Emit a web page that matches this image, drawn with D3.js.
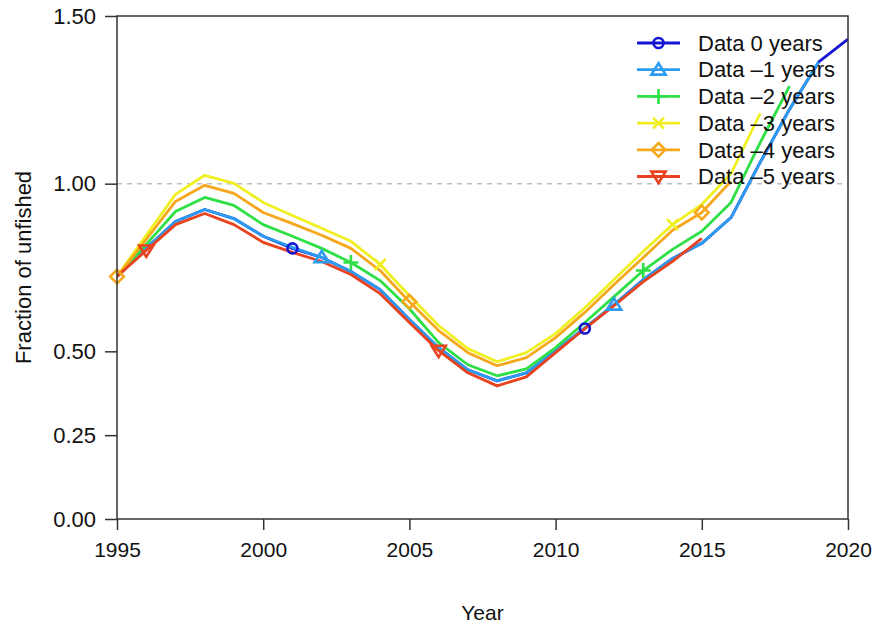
<!DOCTYPE html>
<html>
<head>
<meta charset="utf-8">
<script src="https://cdn.jsdelivr.net/npm/d3@7"></script>
<style>
  html, body { margin: 0; padding: 0; background: #ffffff; }
  svg { display: block; font-family: "Liberation Sans", Arial, Helvetica, sans-serif; }
</style>
</head>
<body>
<svg id="chart" width="875" height="625"></svg>
<script>
// Spawning biomass relative to unfished, retrospective runs
const years = d3.range(1995, 2021);

const seriesNames = ["Data 0 years", "Data \u20131 years", "Data \u20132 years",
                     "Data \u20133 years", "Data \u20134 years", "Data \u20135 years"];
const seriesColors = ["#1414D2", "#2C9CF0", "#2EDF46", "#F0F020", "#F5A81C", "#E8421E"];
const seriesSymbols = ["circle", "triangle", "plus", "cross", "diamond", "triangleDown"];

const retro0 = [0.723, 0.807, 0.887, 0.923, 0.896, 0.843, 0.807, 0.780, 0.738, 0.684,
                0.595, 0.511, 0.445, 0.412, 0.436, 0.502, 0.568, 0.639, 0.714, 0.777,
                0.822, 0.899, 1.064, 1.222, 1.363, 1.431];
const retro1 = [0.723, 0.807, 0.887, 0.923, 0.896, 0.843, 0.810, 0.780, 0.738, 0.684,
                0.595, 0.511, 0.445, 0.412, 0.436, 0.502, 0.571, 0.639, 0.714, 0.777,
                0.822, 0.899, 1.064, 1.222, 1.363];
const retro2 = [0.723, 0.819, 0.917, 0.959, 0.935, 0.878, 0.843, 0.807, 0.765, 0.711,
                0.627, 0.526, 0.460, 0.427, 0.448, 0.511, 0.586, 0.663, 0.741, 0.804,
                0.858, 0.944, 1.123, 1.291];
const retro3 = [0.723, 0.846, 0.968, 1.025, 1.001, 0.944, 0.905, 0.867, 0.828, 0.759,
                0.666, 0.577, 0.508, 0.469, 0.496, 0.553, 0.630, 0.714, 0.798, 0.878,
                0.938, 1.030, 1.210];
const retro4 = [0.723, 0.834, 0.947, 0.995, 0.971, 0.914, 0.881, 0.846, 0.807, 0.741,
                0.648, 0.562, 0.496, 0.457, 0.481, 0.541, 0.616, 0.699, 0.780, 0.861,
                0.914, 1.007];
const retro5 = [0.723, 0.801, 0.878, 0.911, 0.878, 0.825, 0.795, 0.768, 0.729, 0.672,
                0.586, 0.502, 0.436, 0.397, 0.424, 0.496, 0.568, 0.636, 0.708, 0.768,
                0.837];
const seriesValues = [retro0, retro1, retro2, retro3, retro4, retro5];

// staggered years at which each run shows its symbol
const markerYears = [[2001, 2011], [2002, 2012], [2003, 2013],
                     [2004, 2014], [1995, 2005, 2015], [1996, 2006]];

const xTicks = [1995, 2000, 2005, 2010, 2015, 2020];
const yTicks = [0, 0.25, 0.5, 1.0, 1.5];
const referenceLevel = 1.0;

// ---- layout
const svg = d3.select("#chart");
const plot = { left: 117, right: 848, top: 16, bottom: 519 };
const fontSize = 21;
const bigFont = 22;
const textColor = "#111111";
const axisColor = "#333333";

const x = d3.scaleLinear().domain([1995, 2020]).range([plot.left, plot.right]);
const y = d3.scaleLinear().domain([0, 1.5]).range([plot.bottom, plot.top]);

// reference line at unfished level
svg.append("line")
  .attr("x1", plot.left).attr("x2", plot.right)
  .attr("y1", y(referenceLevel)).attr("y2", y(referenceLevel))
  .attr("stroke", "#BDBDBD").attr("stroke-width", 1.5)
  .attr("stroke-dasharray", "5,5");

// series lines
const line = d3.line().x(d => x(d.year)).y(d => y(d.value));
const seriesData = seriesValues.map(vals => vals.map((v, i) => ({ year: years[i], value: v })));

seriesData.forEach((pts, k) => {
  svg.append("path")
    .datum(pts)
    .attr("fill", "none")
    .attr("stroke", seriesColors[k])
    .attr("stroke-width", 2.8)
    .attr("stroke-linejoin", "round")
    .attr("d", line);
});

// symbol drawing
function drawSymbol(g, type, cx, cy, color) {
  const s = 6.5;
  const sw = 2.6;
  if (type === "circle") {
    g.append("circle").attr("cx", cx).attr("cy", cy).attr("r", 5)
      .attr("fill", "none").attr("stroke", color).attr("stroke-width", sw);
  } else if (type === "triangle") {
    g.append("path")
      .attr("d", `M${cx},${cy - s}L${cx + s * 1.1},${cy + s * 0.75}L${cx - s * 1.1},${cy + s * 0.75}Z`)
      .attr("fill", "none").attr("stroke", color).attr("stroke-width", sw).attr("stroke-linejoin", "miter");
  } else if (type === "triangleDown") {
    g.append("path")
      .attr("d", `M${cx},${cy + s}L${cx + s * 1.1},${cy - s * 0.75}L${cx - s * 1.1},${cy - s * 0.75}Z`)
      .attr("fill", "none").attr("stroke", color).attr("stroke-width", sw).attr("stroke-linejoin", "miter");
  } else if (type === "plus") {
    g.append("path")
      .attr("d", `M${cx - s * 1.15},${cy}H${cx + s * 1.15}M${cx},${cy - s * 1.15}V${cy + s * 1.15}`)
      .attr("stroke", color).attr("stroke-width", sw);
  } else if (type === "cross") {
    const c = s * 0.85;
    g.append("path")
      .attr("d", `M${cx - c},${cy - c}L${cx + c},${cy + c}M${cx - c},${cy + c}L${cx + c},${cy - c}`)
      .attr("stroke", color).attr("stroke-width", sw);
  } else if (type === "diamond") {
    const d = s * 1.05;
    g.append("path")
      .attr("d", `M${cx},${cy - d}L${cx + d},${cy}L${cx},${cy + d}L${cx - d},${cy}Z`)
      .attr("fill", "none").attr("stroke", color).attr("stroke-width", sw);
  }
}

// series symbols
const markers = svg.append("g");
seriesData.forEach((pts, k) => {
  markerYears[k].forEach(yr => {
    const p = pts.find(d => d.year === yr);
    if (p) drawSymbol(markers, seriesSymbols[k], x(p.year), y(p.value), seriesColors[k]);
  });
});

// plot frame
svg.append("rect")
  .attr("x", plot.left).attr("y", plot.top)
  .attr("width", plot.right - plot.left).attr("height", plot.bottom - plot.top)
  .attr("fill", "none").attr("stroke", axisColor).attr("stroke-width", 1.5);

// axes
const xAxis = svg.append("g")
  .attr("transform", `translate(0,${plot.bottom})`)
  .call(d3.axisBottom(x).tickValues(xTicks).tickFormat(d3.format("d")).tickSizeInner(11).tickSizeOuter(0).tickPadding(12));
const yAxis = svg.append("g")
  .attr("transform", `translate(${plot.left},0)`)
  .call(d3.axisLeft(y).tickValues(yTicks).tickFormat(d3.format(".2f")).tickSizeInner(12).tickSizeOuter(0).tickPadding(9));

[xAxis, yAxis].forEach(a => {
  a.select(".domain").remove();
  a.selectAll(".tick line").attr("stroke", axisColor).attr("stroke-width", 1.5);
  a.selectAll(".tick text").attr("fill", textColor)
    .style("font-family", "'Liberation Sans', Arial, sans-serif");
});
xAxis.selectAll(".tick text").style("font-size", fontSize + "px");
yAxis.selectAll(".tick text").style("font-size", bigFont + "px");

// axis titles
svg.append("text")
  .attr("x", (plot.left + plot.right) / 2).attr("y", 620)
  .attr("text-anchor", "middle").attr("fill", textColor)
  .style("font-size", fontSize + "px")
  .text("Year");

svg.append("text")
  .attr("transform", `translate(31,${(plot.top + plot.bottom) / 2}) rotate(-90)`)
  .attr("text-anchor", "middle").attr("fill", textColor)
  .style("font-size", bigFont + "px")
  .text("Fraction of unfished");

// legend
const legend = svg.append("g");
const legendX0 = 637, legendX1 = 680, legendTextX = 698, legendY0 = 43, legendStep = 26.7;
seriesNames.forEach((name, k) => {
  const ly = legendY0 + k * legendStep;
  legend.append("line")
    .attr("x1", legendX0).attr("x2", legendX1).attr("y1", ly).attr("y2", ly)
    .attr("stroke", seriesColors[k]).attr("stroke-width", 2.8);
  drawSymbol(legend, seriesSymbols[k], (legendX0 + legendX1) / 2, ly, seriesColors[k]);
  legend.append("text")
    .attr("x", legendTextX).attr("y", ly).attr("dy", "0.35em")
    .attr("fill", textColor)
    .style("font-size", bigFont + "px")
    .text(name);
});
</script>
</body>
</html>
